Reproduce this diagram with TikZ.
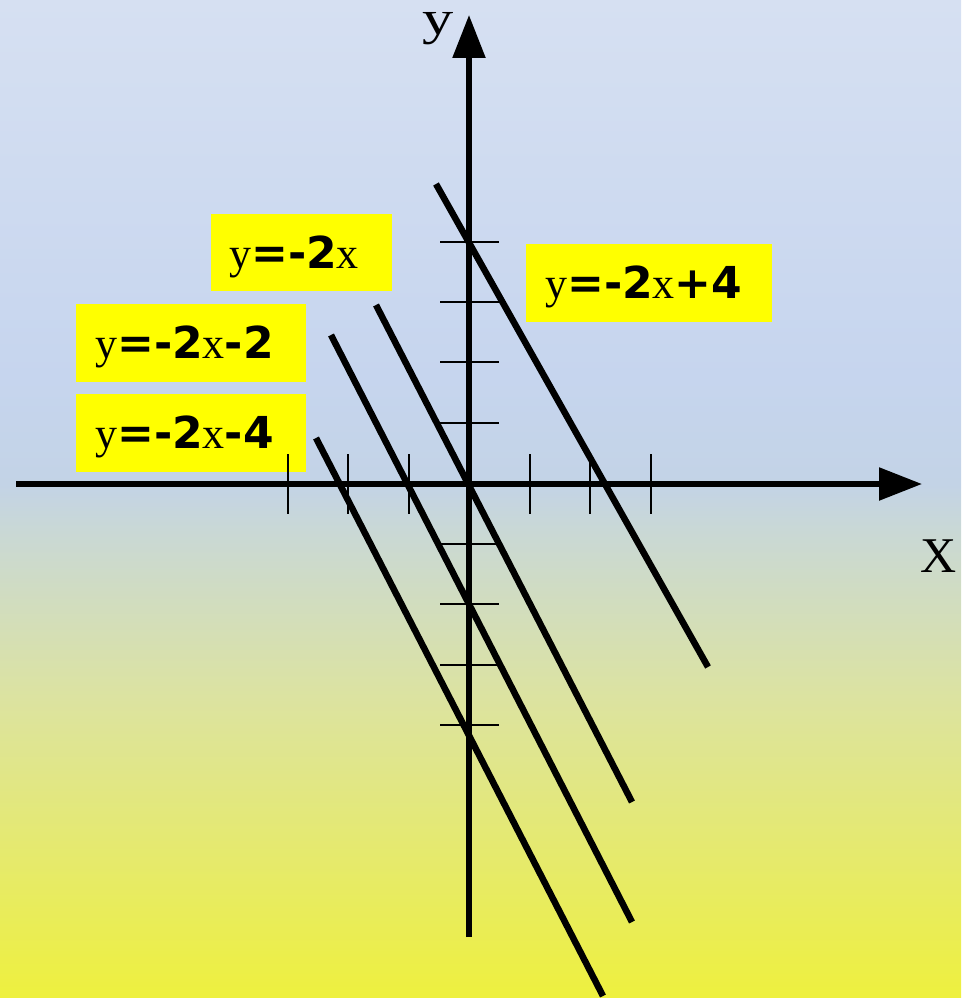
\documentclass[tikz,border=0pt]{standalone}
\usepackage{fontspec}
\setmainfont{Liberation Serif}
\newfontfamily\boldsans{DejaVu Sans}
\usetikzlibrary{arrows.meta}
\definecolor{bgtop}{HTML}{D6E0F2}
\definecolor{bgmid}{HTML}{C6D5EE}
\definecolor{bgax}{HTML}{C3D3E6}
\definecolor{bglow}{HTML}{C9D8D6}
\definecolor{bggreen}{HTML}{DCE3A0}
\definecolor{bgbot}{HTML}{EEF03E}
\definecolor{labyellow}{HTML}{FFFF00}
\pgfdeclareverticalshading{bgshade}{100bp}{
  color(0bp)=(bgbot);
  color(25bp)=(bgbot);
  color(40bp)=(bggreen);
  color(48.5bp)=(bglow);
  color(50.75bp)=(bgax);
  color(56bp)=(bgmid);
  color(75bp)=(bgtop);
  color(100bp)=(bgtop)}
\newcommand{\bb}[1]{{\boldsans\bfseries #1}}
\tikzset{
  axisline/.style={line width=5.5pt, -{Triangle[length=43pt,width=32pt]}},
  tickmark/.style={line width=2pt},
  graphline/.style={line width=6.5pt},
  labbox/.style={fill=labyellow, inner sep=0pt, anchor=north west},
  labtext/.style={anchor=base west, inner sep=0pt, font=\fontsize{44}{50}\selectfont},
  axlabel/.style={inner sep=0pt, font=\fontsize{50}{56}\selectfont}
}
\begin{document}
\begin{tikzpicture}[x=1pt,y=-1pt]
\useasboundingbox (0,0) rectangle (961,998);
\fill[shading=bgshade] (0,0) rectangle (961,998);
% label boxes
\node[labbox, minimum width=181pt, minimum height=77pt] (b0) at (211,214) {};
\node[labbox, minimum width=246pt, minimum height=78pt] (b4) at (526,244) {};
\node[labbox, minimum width=230pt, minimum height=78pt] (bm2) at (76,304) {};
\node[labbox, minimum width=230pt, minimum height=78pt] (bm4) at (76,394) {};
\node[labtext] (t0) at (229,268) {y\bb{=-2}x};
\node[labtext] (t4) at (545,298) {y\bb{=-2}x\bb{+4}};
\node[labtext] (tm2) at (95,358) {y\bb{=-2}x\bb{-2}};
\node[labtext] (tm4) at (95,448) {y\bb{=-2}x\bb{-4}};
% ticks
\foreach \xx in {288,348,409,530,590,651}
  \draw[tickmark] (\xx,454) -- (\xx,514);
\foreach \yy in {242,302,362,423,544,604,665,725}
  \draw[tickmark] (440,\yy) -- (499,\yy);
% axes
\coordinate (xs) at (16,484);
\coordinate (xe) at (922,484);
\coordinate (ys) at (469,937);
\coordinate (ye) at (469,15);
\draw[axisline] (xs) -- (xe);
\draw[axisline] (ys) -- (ye);
\node[axlabel, anchor=base west, xscale=1.3, font=\fontsize{48}{52}\selectfont] (ylab) at (422,35) {\smash{y}};
\node[axlabel] (xlab) at (939,556) {X};
% graph lines
\coordinate (a1) at (436,184); \coordinate (a2) at (708,667);
\coordinate (c1) at (376,305); \coordinate (c2) at (632,802);
\coordinate (d1) at (331,335); \coordinate (d2) at (632,922);
\coordinate (e1) at (316,438); \coordinate (e2) at (603,996);
\draw[graphline] (a1) -- (a2);
\draw[graphline] (c1) -- (c2);
\draw[graphline] (d1) -- (d2);
\draw[graphline] (e1) -- (e2);
\end{tikzpicture}
\end{document}
